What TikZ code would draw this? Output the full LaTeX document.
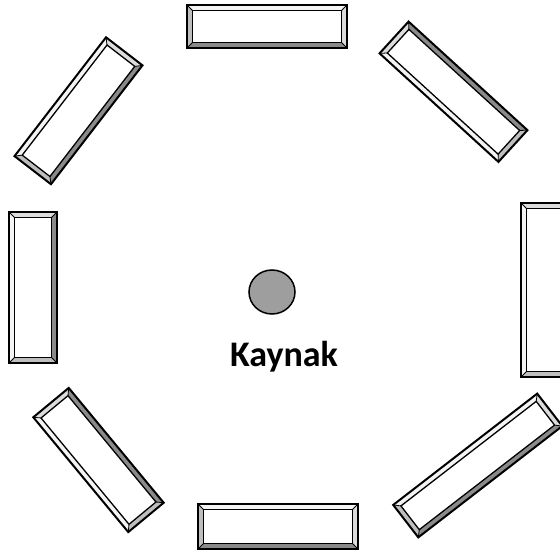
\documentclass[tikz,border=0pt]{standalone}
\usepackage{fontspec}
\setmainfont{Carlito}
\usetikzlibrary{shapes.geometric}
\definecolor{bvtop}{HTML}{F4F4F4}
\definecolor{bvright}{HTML}{DCDCDC}
\definecolor{bvleft}{HTML}{BEBEBE}
\definecolor{bvbot}{HTML}{8A8A8A}
\definecolor{srcfill}{HTML}{9E9E9E}
\tikzset{
  bevout/.style={draw=black,line width=2pt,line join=miter},
  bevin/.style={draw=black,line width=1.3pt,fill=white},
  bevdiag/.style={draw=black,line width=0.8pt},
  srcnode/.style={ellipse,draw=black,line width=1.5pt,fill=srcfill,minimum width=46pt,minimum height=44pt,inner sep=0pt},
  lbl/.style={font=\bfseries\fontsize{36}{42}\selectfont,anchor=base,inner sep=0pt}
}
\newcommand{\bevbox}[5]{%
 \begin{scope}[shift={(#1,#2)},rotate=#5]
  \pgfmathsetmacro{\hl}{#3/2}\pgfmathsetmacro{\hw}{#4/2}%
  \pgfmathsetmacro{\il}{#3/2-5.5}\pgfmathsetmacro{\iw}{#4/2-5.5}%
  \fill[bvtop] (-\hl,\hw)--(\hl,\hw)--(\il,\iw)--(-\il,\iw)--cycle;
  \fill[bvbot] (-\hl,-\hw)--(\hl,-\hw)--(\il,-\iw)--(-\il,-\iw)--cycle;
  \fill[bvleft] (-\hl,-\hw)--(-\hl,\hw)--(-\il,\iw)--(-\il,-\iw)--cycle;
  \fill[bvright] (\hl,-\hw)--(\hl,\hw)--(\il,\iw)--(\il,-\iw)--cycle;
  \draw[bevin] (-\il,-\iw) rectangle (\il,\iw);
  \draw[bevdiag] (-\hl,-\hw)--(-\il,-\iw) (\hl,-\hw)--(\il,-\iw) (\hl,\hw)--(\il,\iw) (-\hl,\hw)--(-\il,\iw);
  \draw[bevout] (-\hl,-\hw) rectangle (\hl,\hw);
 \end{scope}}
\begin{document}
\begin{tikzpicture}[x=1pt,y=1pt]
\useasboundingbox (0,0) rectangle (560,550);
\clip (0,0) rectangle (560,550);
\bevbox{267}{523.5}{160}{43}{0}
\bevbox{278}{23.5}{160}{45}{0}
\bevbox{33}{262.5}{151}{48}{90}
\bevbox{545}{260}{174}{48}{90}
\bevbox{78.5}{439.25}{150}{46}{52.4}
\bevbox{453.5}{458.25}{161}{43}{137.6}
\bevbox{98.5}{90}{149}{46}{129.6}
\bevbox{477.75}{84.5}{182}{41}{37.7}
\node[srcnode] (src) at (272,258) {};
\node[lbl] (lab) at (284,184) {Kaynak};
\end{tikzpicture}
\end{document}
